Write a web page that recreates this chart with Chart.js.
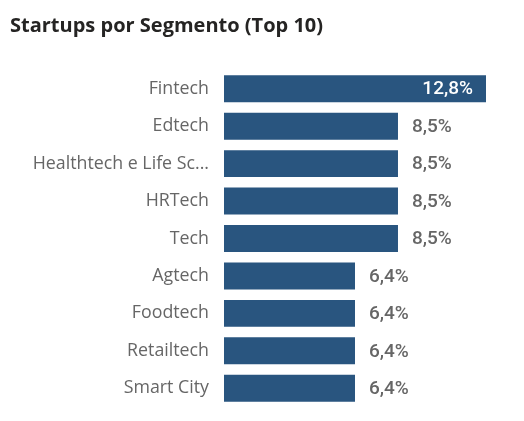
<!DOCTYPE html>
<html>
<head>
<meta charset="utf-8">
<script src="https://cdn.jsdelivr.net/npm/chart.js@4"></script>
<style>
  html, body { margin: 0; padding: 0; background: #fff; }
  #wrap { width: 524px; height: 421px; position: relative; }
</style>
</head>
<body>
<div id="wrap"><canvas id="grafico"></canvas></div>
<script>
// Dados do gráfico
const segmentos = ["Fintech", "Edtech", "Healthtech e Life Sciences", "HRTech", "Tech", "Agtech", "Foodtech", "Retailtech", "Smart City"];
const percentuais = [12.8, 8.5, 8.5, 8.5, 8.5, 6.4, 6.4, 6.4, 6.4];
const titulo = "Startups por Segmento (Top 10)";

const corBarra = "#29557f";

// rótulos de valor (dentro da maior barra, fora das demais)
const rotulosValor = {
    id: "rotulosValor",
    afterDatasetsDraw(chart) {
        const ctx = chart.ctx;
        const meta = chart.getDatasetMeta(0);
        ctx.save();
        ctx.font = "500 19px Roboto";
        ctx.textBaseline = "middle";
        meta.data.forEach((bar, i) => {
            const txt = percentuais[i].toFixed(1).replace(".", ",") + "%";
            if (i === 0) {
                ctx.fillStyle = "#ffffff";
                ctx.textAlign = "right";
                ctx.fillText(txt, bar.x - 13, bar.y + 1);
            } else {
                ctx.fillStyle = "#666666";
                ctx.textAlign = "left";
                ctx.fillText(txt, bar.x + 14, bar.y + 1);
            }
        });
        ctx.restore();
    }
};

new Chart(document.getElementById("grafico"), {
    type: "bar",
    data: {
        labels: segmentos,
        datasets: [{
            data: percentuais,
            backgroundColor: corBarra,
            borderWidth: 0,
            barPercentage: 0.72,
            categoryPercentage: 1
        }]
    },
    options: {
        indexAxis: "y",
        responsive: true,
        maintainAspectRatio: false,
        animation: false,
        layout: { padding: { left: 10, right: 38, top: 0, bottom: 14 } },
        plugins: {
            legend: { display: false },
            tooltip: { enabled: false },
            title: {
                display: true,
                text: titulo,
                align: "start",
                color: "#252423",
                font: { family: "'Open Sans'", size: 20, weight: "bold" },
                padding: { top: 14, bottom: 32 }
            }
        },
        scales: {
            x: {
                display: false,
                min: 0,
                max: 12.8
            },
            y: {
                grid: { display: false, drawTicks: false },
                border: { display: false },
                afterFit(axis) {
                    axis.width = 214;
                    axis.paddingTop = 0;
                    axis.paddingBottom = 0;
                },
                ticks: {
                    color: "#666666",
                    padding: 15,
                    font: { family: "'Open Sans'", size: 17.8 },
                    callback(v) {
                        const s = segmentos[v];
                        return s.length > 20 ? s.slice(0, 20) + "..." : s;
                    }
                }
            }
        }
    },
    plugins: [rotulosValor]
});
</script>
</body>
</html>
